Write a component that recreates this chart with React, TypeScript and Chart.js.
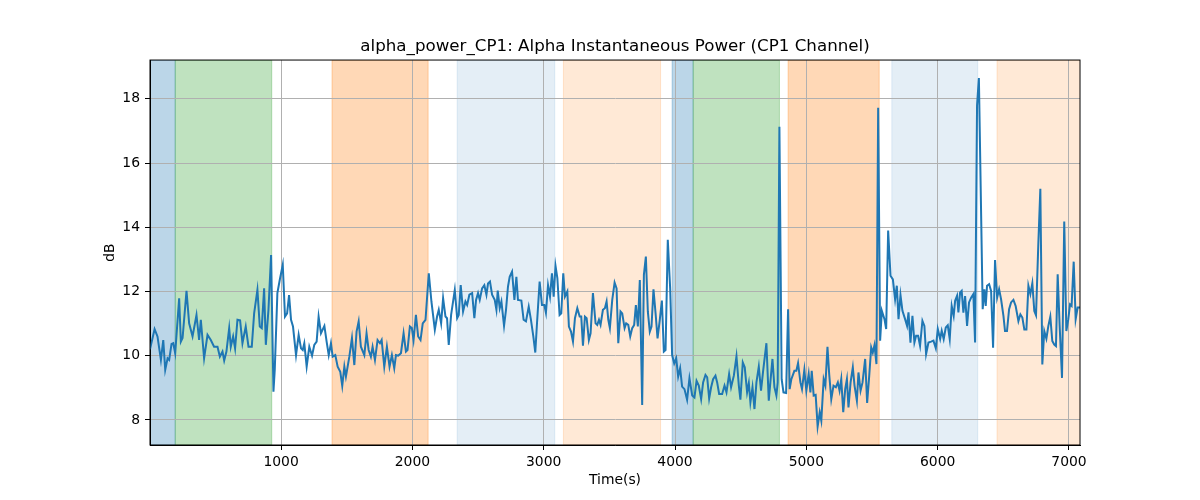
import { useEffect, useRef } from "react"
import { Chart, registerables } from "chart.js"

Chart.register(...registerables)

// sample times (s) and alpha power (dB)
const times = [
  2, 37, 59, 85, 103, 118, 136, 148, 166, 179, 194, 224, 237, 250, 280, 300, 326, 356, 376, 389,
  414, 440, 465, 490, 516, 534, 554, 567, 584, 605, 617, 635, 650, 668, 688, 706, 731, 752, 777, 795,
  820, 838, 853, 871, 884, 904, 924, 942, 952, 972, 990, 1013, 1030, 1046, 1061, 1076, 1091, 1114, 1134, 1152,
  1165, 1177, 1195, 1215, 1236, 1253, 1271, 1286, 1304, 1330, 1347, 1363, 1380, 1393, 1413, 1431, 1451, 1466, 1482, 1494,
  1520, 1540, 1558, 1575, 1591, 1608, 1634, 1651, 1667, 1684, 1697, 1715, 1735, 1753, 1766, 1786, 1806, 1826, 1844, 1862,
  1875, 1892, 1913, 1933, 1951, 1963, 1981, 1996, 2009, 2027, 2044, 2062, 2079, 2100, 2125, 2145, 2171, 2188, 2201, 2219,
  2234, 2252, 2264, 2277, 2295, 2323, 2341, 2353, 2368, 2386, 2404, 2417, 2434, 2455, 2472, 2485, 2500, 2513, 2531, 2548,
  2564, 2576, 2591, 2607, 2627, 2640, 2650, 2665, 2678, 2698, 2713, 2728, 2741, 2759, 2777, 2792, 2804, 2830, 2847, 2865,
  2886, 2903, 2921, 2936, 2949, 2969, 2987, 3005, 3017, 3033, 3048, 3063, 3076, 3090, 3104, 3121, 3134, 3149, 3162, 3180,
  3192, 3208, 3223, 3238, 3256, 3274, 3286, 3299, 3314, 3327, 3344, 3357, 3375, 3395, 3408, 3421, 3433, 3451, 3466, 3479,
  3492, 3504, 3522, 3540, 3555, 3568, 3585, 3598, 3616, 3628, 3644, 3659, 3674, 3689, 3702, 3717, 3732, 3750, 3763, 3778,
  3793, 3808, 3821, 3836, 3852, 3867, 3884, 3900, 3915, 3928, 3945, 3963, 3978, 3994, 4009, 4024, 4039, 4054, 4072, 4092,
  4110, 4131, 4148, 4164, 4181, 4199, 4214, 4232, 4245, 4260, 4275, 4290, 4308, 4321, 4336, 4359, 4377, 4392, 4412, 4427,
  4448, 4468, 4486, 4498, 4516, 4531, 4549, 4562, 4574, 4590, 4605, 4620, 4638, 4655, 4671, 4696, 4714, 4726, 4742, 4757,
  4772, 4782, 4795, 4812, 4826, 4846, 4861, 4873, 4886, 4909, 4924, 4937, 4955, 4967, 4985, 5000, 5018, 5031, 5041, 5056,
  5071, 5086, 5102, 5114, 5132, 5145, 5161, 5174, 5190, 5207, 5225, 5240, 5253, 5266, 5281, 5296, 5309, 5321, 5337, 5354,
  5367, 5385, 5397, 5413, 5428, 5448, 5463, 5479, 5494, 5506, 5519, 5534, 5547, 5562, 5575, 5595, 5608, 5623, 5641, 5659,
  5676, 5689, 5702, 5717, 5732, 5752, 5767, 5778, 5793, 5808, 5823, 5836, 5851, 5866, 5884, 5899, 5912, 5930, 5950, 5968,
  5986, 6001, 6019, 6031, 6046, 6062, 6077, 6092, 6107, 6122, 6133, 6148, 6158, 6171, 6183, 6196, 6209, 6224, 6239, 6255,
  6272, 6285, 6300, 6314, 6343, 6356, 6366, 6376, 6392, 6407, 6422, 6437, 6453, 6468, 6483, 6501, 6513, 6528, 6544, 6559,
  6577, 6594, 6615, 6630, 6645, 6660, 6676, 6691, 6706, 6721, 6736, 6749, 6767, 6782, 6797, 6812, 6828, 6843, 6858, 6873,
  6888, 6901, 6914, 6929, 6947, 6964, 6980, 6995, 7008, 7020, 7036, 7051, 7066, 7084,
]

const power = [
  10.2, 10.83, 10.6, 9.87, 10.49, 9.56, 9.92, 9.87, 10.37, 10.39, 10.08, 11.79, 10.44, 10.55, 12.02, 11.01, 10.6, 11.27, 10.49, 11.12,
  9.92, 10.65, 10.49, 10.28, 10.28, 9.97, 10.13, 9.85, 10.13, 10.86, 10.28, 10.6, 10.23, 11.12, 11.1, 10.39, 10.91, 10.28, 10.28, 11.32,
  12.05, 10.91, 10.86, 12.1, 10.34, 11.43, 13.14, 8.88, 9.56, 11.95, 12.36, 12.83, 11.22, 11.32, 11.89, 11.12, 10.91, 10.02, 10.65, 10.23,
  10.18, 10.39, 9.66, 10.28, 10.0, 10.34, 10.44, 11.22, 10.7, 10.93, 10.44, 10.02, 10.39, 9.97, 10.02, 9.66, 9.5, 9.06, 9.66, 9.35,
  9.97, 10.55, 9.71, 10.75, 11.07, 10.28, 10.02, 10.7, 10.18, 9.97, 10.28, 9.87, 10.49, 10.39, 10.49, 9.66, 10.28, 9.66, 10.02, 9.61,
  10.02, 10.0, 10.08, 10.7, 10.13, 10.18, 10.91, 10.86, 10.49, 11.27, 10.6, 10.49, 11.01, 11.12, 12.57, 11.69, 10.81, 11.22, 11.43, 11.01,
  11.79, 11.22, 11.17, 10.34, 11.27, 12.05, 11.17, 11.27, 12.2, 11.38, 11.69, 11.58, 11.9, 11.95, 11.17, 11.74, 11.95, 11.74, 12.1, 12.2,
  11.9, 12.25, 12.31, 11.9, 11.74, 11.43, 12.03, 11.48, 11.69, 10.93, 11.43, 12.15, 12.46, 12.62, 11.74, 12.46, 11.74, 11.72, 11.12, 11.07,
  11.53, 11.12, 10.6, 10.1, 11.01, 12.31, 11.58, 11.58, 11.34, 12.2, 11.84, 12.57, 11.84, 12.8, 12.42, 11.27, 11.32, 12.57, 11.84, 12.0,
  10.91, 10.75, 10.44, 11.17, 11.48, 11.22, 11.22, 10.31, 11.22, 11.17, 10.49, 10.7, 11.95, 11.01, 10.96, 11.12, 10.96, 11.43, 11.48, 11.69,
  11.12, 10.86, 11.74, 12.28, 12.1, 10.39, 11.38, 11.32, 10.86, 11.01, 10.96, 10.6, 10.86, 10.96, 11.58, 10.91, 12.36, 8.47, 12.52, 13.09,
  11.38, 10.75, 10.91, 12.07, 11.32, 10.54, 11.12, 11.72, 10.13, 10.18, 13.61, 12.1, 10.02, 9.76, 9.92, 9.35, 9.61, 9.04, 8.96, 8.63,
  9.3, 8.76, 8.7, 9.22, 9.07, 8.65, 9.17, 9.4, 9.33, 8.67, 9.02, 9.27, 9.38, 9.17, 8.81, 8.81, 9.07, 8.86, 9.43, 9.02,
  9.38, 9.98, 9.07, 8.63, 9.79, 9.64, 8.86, 9.15, 8.55, 9.02, 8.34, 9.17, 9.66, 8.91, 9.53, 10.39, 8.6, 9.17, 9.9, 9.02,
  8.76, 9.17, 17.13, 9.27, 8.86, 8.84, 11.45, 8.96, 9.27, 9.53, 9.53, 9.77, 9.17, 8.96, 9.56, 8.91, 9.43, 8.86, 9.53, 8.76,
  8.78, 7.8, 8.24, 7.98, 9.27, 9.07, 10.28, 9.43, 8.65, 9.07, 9.02, 9.17, 8.91, 9.27, 8.24, 8.96, 9.27, 8.39, 9.17, 9.64,
  9.07, 8.6, 9.48, 8.91, 9.17, 9.9, 8.53, 9.38, 10.26, 10.1, 10.33, 9.74, 17.72, 10.47, 11.4, 11.14, 10.83, 13.9, 12.49, 12.38,
  11.76, 12.18, 11.14, 11.89, 11.4, 11.14, 10.93, 11.35, 10.41, 11.24, 10.41, 10.62, 10.62, 10.31, 11.09, 10.93, 10.05, 10.41, 10.44, 10.47,
  10.23, 10.83, 10.52, 10.78, 10.52, 10.88, 10.95, 10.52, 11.55, 11.24, 11.71, 11.87, 11.35, 11.97, 12.02, 11.34, 11.86, 10.93, 11.66, 11.81,
  11.92, 10.41, 17.8, 18.65, 11.45, 12.07, 11.55, 12.18, 12.23, 12.02, 10.25, 12.98, 11.81, 12.07, 11.76, 11.24, 10.77, 10.77, 11.45, 11.66,
  11.74, 11.55, 11.08, 11.29, 11.19, 10.82, 10.82, 12.18, 11.92, 12.26, 11.39, 11.26, 13.53, 15.2, 9.73, 10.77, 10.53, 10.93, 11.22, 10.46,
  10.35, 10.3, 12.54, 10.93, 9.31, 14.18, 10.77, 11.14, 11.6, 11.55, 12.93, 11.14, 11.5, 11.5,
]

const xTicks = [1000, 2000, 3000, 4000, 5000, 6000, 7000]
const yTicks = [8, 10, 12, 14, 16, 18]

// shaded periods
const spanStarts = [0, 194, 1388, 2341, 3150, 3978, 4138, 4861, 5651, 6452]
const spanEnds = [194, 929, 2120, 3084, 3890, 4138, 4795, 5555, 6305, 7090]
const spanColors = [
  "rgba(31, 119, 180, 0.3)",
  "rgba(44, 160, 44, 0.3)",
  "rgba(255, 127, 14, 0.3)",
  "rgba(31, 119, 180, 0.12)",
  "rgba(255, 127, 14, 0.17)",
  "rgba(31, 119, 180, 0.3)",
  "rgba(44, 160, 44, 0.3)",
  "rgba(255, 127, 14, 0.3)",
  "rgba(31, 119, 180, 0.12)",
  "rgba(255, 127, 14, 0.17)",
]

const FONT = "DejaVu Sans"

const spanPlugin = {
  id: "spans",
  beforeDraw(chart: Chart) {
    const { ctx, chartArea, scales } = chart
    const x = scales.x
    ctx.save()
    ctx.beginPath()
    ctx.rect(chartArea.left, chartArea.top, chartArea.right - chartArea.left, chartArea.bottom - chartArea.top)
    ctx.clip()
    spanStarts.forEach((s, i) => {
      const x0 = x.getPixelForValue(s)
      const x1 = x.getPixelForValue(spanEnds[i])
      ctx.fillStyle = spanColors[i]
      ctx.fillRect(x0, chartArea.top, x1 - x0, chartArea.bottom - chartArea.top)
      ctx.strokeStyle = spanColors[i]
      ctx.lineWidth = 1
      ctx.strokeRect(x0, chartArea.top, x1 - x0, chartArea.bottom - chartArea.top)
    })
    ctx.restore()
  },
  afterDraw(chart: Chart) {
    const { ctx, chartArea } = chart
    ctx.save()
    ctx.strokeStyle = "#000"
    ctx.lineWidth = 1
    ctx.strokeRect(chartArea.left, chartArea.top, chartArea.right - chartArea.left, chartArea.bottom - chartArea.top)
    ctx.restore()
  },
}

export default function App() {
  const chartRef = useRef<HTMLCanvasElement>(null)
  const chartInstance = useRef<Chart | null>(null)

  useEffect(() => {
    document.body.style.margin = "0"
    if (!chartRef.current) return
    if (chartInstance.current) chartInstance.current.destroy()
    const ctx = chartRef.current.getContext("2d")
    if (!ctx) return

    chartInstance.current = new Chart(ctx, {
      type: "line",
      data: {
        datasets: [
          {
            label: "alpha_power_CP1",
            data: times.map((t, i) => ({ x: t, y: power[i] })),
            borderColor: "#1f77b4",
            borderWidth: 2,
            pointRadius: 0,
            tension: 0,
            fill: false,
          },
        ],
      },
      options: {
        responsive: false,
        animation: false,
        layout: { padding: { left: 98, right: 120, top: 0, bottom: 7 } },
        plugins: {
          legend: { display: false },
          tooltip: { enabled: false },
          title: {
            display: true,
            text: "alpha_power_CP1: Alpha Instantaneous Power (CP1 Channel)",
            color: "#000",
            fullSize: false,
            font: { family: FONT, size: 16.7, weight: "normal" },
            padding: { top: 37, bottom: 3 },
          },
        },
        scales: {
          x: {
            type: "linear",
            min: 2,
            max: 7084,
            afterFit: (s: any) => {
              s.height = 48
            },
            afterBuildTicks: (s: any) => {
              s.ticks = xTicks.map((v) => ({ value: v }))
            },
            ticks: {
              autoSkip: false,
              color: "#000",
              padding: 4,
              maxRotation: 0,
              font: { family: FONT, size: 13.9 },
              callback: (v: any) => String(v),
            },
            grid: { color: "#b0b0b0", lineWidth: 1, tickColor: "#000", tickLength: 5 },
            border: { display: true, color: "#000" },
            title: {
              display: true,
              text: "Time(s)",
              color: "#000",
              font: { family: FONT, size: 13.9 },
              padding: { top: 4, bottom: 4 },
            },
          },
          y: {
            min: 7.22,
            max: 19.21,
            afterFit: (s: any) => {
              s.width = 52
            },
            afterBuildTicks: (s: any) => {
              s.ticks = yTicks.map((v) => ({ value: v }))
            },
            ticks: {
              autoSkip: false,
              color: "#000",
              padding: 5,
              font: { family: FONT, size: 13.9 },
              callback: (v: any) => String(v),
            },
            grid: { color: "#b0b0b0", lineWidth: 1, tickColor: "#000", tickLength: 5 },
            border: { display: true, color: "#000" },
            title: {
              display: true,
              text: "dB",
              color: "#000",
              font: { family: FONT, size: 13.9 },
              padding: { top: 4, bottom: 4 },
            },
          },
        },
      },
      plugins: [spanPlugin],
    })

    return () => {
      if (chartInstance.current) {
        chartInstance.current.destroy()
        chartInstance.current = null
      }
    }
  }, [])

  return (
    <div style={{ width: 1200, height: 500 }}>
      <canvas ref={chartRef} width={1200} height={500}></canvas>
    </div>
  )
}
